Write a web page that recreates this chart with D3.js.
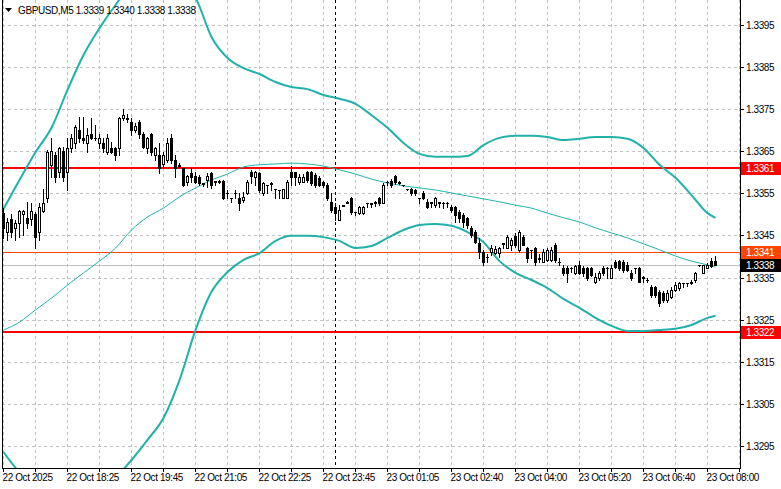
<!DOCTYPE html>
<html><head><meta charset="utf-8">
<script src="https://cdn.jsdelivr.net/npm/d3@7"></script>
<style>
body{margin:0;background:#fff}
svg{display:block}
text{font-family:Tahoma,"Liberation Sans",Arial,sans-serif;font-size:10px;letter-spacing:-0.4px;fill:#000}
</style>
</head><body>
<svg id="chart" width="781" height="489"></svg>
<script>
// ---- data ----
const symbolTitle = "GBPUSD,M5";
const lastOHLC = [1.3339, 1.3340, 1.3338, 1.3338];

const opens = [1.33504,1.33458,1.33490,1.33468,1.33480,1.33501,1.33492,1.33490,1.33501,1.33458,
1.33509,1.33539,1.33618,1.33641,1.33601,1.33651,1.33601,1.33658,1.33670,1.33701,
1.33682,1.33670,1.33691,1.33682,1.33670,1.33670,1.33648,1.33658,1.33658,1.33658,
1.33729,1.33729,1.33720,1.33701,1.33720,1.33691,1.33658,1.33691,1.33641,1.33641,
1.33620,1.33630,1.33682,1.33630,1.33618,1.33611,1.33577,1.33599,1.33592,1.33589,
1.33575,1.33582,1.33599,1.33580,1.33579,1.33580,1.33551,1.33539,1.33550,1.33539,
1.33534,1.33551,1.33601,1.33589,1.33599,1.33551,1.33570,1.33573,1.33561,1.33558,
1.33539,1.33539,1.33601,1.33601,1.33577,1.33577,1.33601,1.33601,1.33594,1.33587,
1.33577,1.33570,1.33529,1.33518,1.33487,1.33522,1.33529,1.33539,1.33506,1.33504,
1.33503,1.33527,1.33525,1.33529,1.33539,1.33527,1.33577,1.33580,1.33592,1.33575,
1.33570,1.33561,1.33561,1.33558,1.33539,1.33551,1.33529,1.33529,1.33522,1.33529,
1.33527,1.33527,1.33518,1.33518,1.33506,1.33499,1.33492,1.33468,1.33458,1.33432,
1.33411,1.33399,1.33411,1.33409,1.33409,1.33430,1.33420,1.33428,1.33449,1.33416,
1.33446,1.33420,1.33416,1.33420,1.33396,1.33387,1.33392,1.33392,1.33428,1.33387,
1.33373,1.33373,1.33373,1.33361,1.33380,1.33373,1.33373,1.33373,1.33339,1.33349,
1.33373,1.33373,1.33349,1.33387,1.33389,1.33387,1.33380,1.33361,1.33373,1.33373,
1.33351,1.33344,1.33327,1.33327,1.33315,1.33313,1.33297,1.33304,1.33320,1.33325,
1.33337,1.33337,1.33339,1.33344,1.33380,1.33361,1.33373,1.33389,1.33390];
const highs = [1.33515,1.33492,1.33501,1.33487,1.33511,1.33511,1.33529,1.33527,1.33506,1.33527,
1.33560,1.33653,1.33682,1.33648,1.33660,1.33660,1.33682,1.33691,1.33713,1.33731,
1.33731,1.33706,1.33729,1.33713,1.33691,1.33682,1.33691,1.33672,1.33660,1.33731,
1.33751,1.33738,1.33729,1.33718,1.33725,1.33696,1.33684,1.33694,1.33660,1.33670,
1.33648,1.33682,1.33691,1.33641,1.33623,1.33613,1.33594,1.33611,1.33601,1.33594,
1.33575,1.33599,1.33601,1.33580,1.33582,1.33582,1.33558,1.33539,1.33558,1.33551,
1.33553,1.33582,1.33606,1.33604,1.33601,1.33577,1.33570,1.33576,1.33561,1.33558,
1.33561,1.33582,1.33616,1.33602,1.33596,1.33596,1.33604,1.33604,1.33599,1.33592,
1.33580,1.33575,1.33551,1.33527,1.33522,1.33523,1.33532,1.33541,1.33506,1.33520,
1.33521,1.33527,1.33527,1.33532,1.33541,1.33575,1.33580,1.33584,1.33594,1.33580,
1.33570,1.33561,1.33563,1.33561,1.33539,1.33556,1.33537,1.33529,1.33541,1.33529,
1.33529,1.33529,1.33522,1.33520,1.33511,1.33504,1.33494,1.33473,1.33463,1.33444,
1.33416,1.33406,1.33428,1.33425,1.33423,1.33432,1.33451,1.33444,1.33456,1.33463,
1.33451,1.33423,1.33416,1.33423,1.33406,1.33418,1.33420,1.33423,1.33432,1.33396,
1.33380,1.33378,1.33375,1.33380,1.33389,1.33378,1.33375,1.33375,1.33361,1.33366,
1.33378,1.33375,1.33380,1.33392,1.33392,1.33392,1.33387,1.33368,1.33373,1.33375,
1.33354,1.33349,1.33332,1.33330,1.33320,1.33318,1.33320,1.33327,1.33339,1.33339,
1.33337,1.33337,1.33344,1.33363,1.33380,1.33380,1.33385,1.33396,1.33400];
const lows = [1.33444,1.33439,1.33446,1.33439,1.33446,1.33451,1.33468,1.33475,1.33420,1.33439,
1.33506,1.33529,1.33589,1.33577,1.33589,1.33580,1.33558,1.33648,1.33658,1.33672,
1.33670,1.33648,1.33680,1.33677,1.33658,1.33648,1.33643,1.33646,1.33630,1.33641,
1.33725,1.33720,1.33689,1.33696,1.33682,1.33658,1.33646,1.33641,1.33630,1.33599,
1.33611,1.33625,1.33623,1.33589,1.33611,1.33568,1.33570,1.33577,1.33575,1.33570,
1.33568,1.33565,1.33563,1.33570,1.33575,1.33537,1.33539,1.33529,1.33539,1.33511,
1.33529,1.33548,1.33575,1.33570,1.33553,1.33546,1.33551,1.33558,1.33539,1.33539,
1.33539,1.33539,1.33570,1.33570,1.33572,1.33577,1.33577,1.33570,1.33565,1.33568,
1.33565,1.33534,1.33506,1.33487,1.33487,1.33520,1.33527,1.33501,1.33499,1.33501,
1.33500,1.33518,1.33518,1.33520,1.33522,1.33527,1.33570,1.33565,1.33572,1.33572,
1.33568,1.33558,1.33546,1.33546,1.33527,1.33537,1.33515,1.33518,1.33518,1.33518,
1.33515,1.33518,1.33506,1.33482,1.33482,1.33470,1.33468,1.33446,1.33432,1.33396,
1.33380,1.33387,1.33404,1.33406,1.33399,1.33420,1.33420,1.33416,1.33423,1.33411,
1.33427,1.33387,1.33396,1.33380,1.33387,1.33387,1.33389,1.33389,1.33387,1.33380,
1.33356,1.33339,1.33363,1.33358,1.33358,1.33354,1.33344,1.33354,1.33337,1.33344,
1.33356,1.33349,1.33349,1.33373,1.33368,1.33363,1.33366,1.33344,1.33361,1.33339,
1.33339,1.33339,1.33304,1.33304,1.33283,1.33292,1.33292,1.33301,1.33318,1.33320,
1.33327,1.33330,1.33335,1.33339,1.33378,1.33361,1.33373,1.33375,1.33380];
const closes = [1.33468,1.33482,1.33458,1.33480,1.33509,1.33509,1.33480,1.33509,1.33446,1.33517,
1.33527,1.33648,1.33651,1.33589,1.33658,1.33589,1.33658,1.33682,1.33708,1.33682,
1.33677,1.33689,1.33682,1.33681,1.33682,1.33658,1.33682,1.33648,1.33641,1.33729,
1.33736,1.33727,1.33701,1.33710,1.33691,1.33660,1.33682,1.33648,1.33658,1.33611,
1.33641,1.33670,1.33630,1.33611,1.33616,1.33570,1.33592,1.33589,1.33577,1.33575,
1.33573,1.33592,1.33570,1.33577,1.33578,1.33539,1.33550,1.33538,1.33551,1.33527,
1.33541,1.33577,1.33592,1.33601,1.33558,1.33575,1.33569,1.33575,1.33560,1.33557,
1.33561,1.33577,1.33589,1.33589,1.33589,1.33589,1.33582,1.33575,1.33570,1.33570,
1.33570,1.33539,1.33511,1.33504,1.33511,1.33521,1.33528,1.33506,1.33505,1.33518,
1.33517,1.33526,1.33527,1.33528,1.33527,1.33570,1.33576,1.33570,1.33577,1.33577,
1.33569,1.33560,1.33551,1.33551,1.33538,1.33539,1.33518,1.33528,1.33539,1.33528,
1.33526,1.33526,1.33511,1.33499,1.33492,1.33482,1.33475,1.33451,1.33434,1.33411,
1.33387,1.33398,1.33420,1.33418,1.33420,1.33432,1.33446,1.33439,1.33428,1.33458,
1.33428,1.33396,1.33415,1.33387,1.33395,1.33411,1.33416,1.33416,1.33392,1.33386,
1.33361,1.33361,1.33372,1.33378,1.33361,1.33361,1.33349,1.33356,1.33351,1.33361,
1.33361,1.33372,1.33373,1.33375,1.33373,1.33368,1.33368,1.33349,1.33372,1.33339,
1.33350,1.33343,1.33309,1.33309,1.33290,1.33297,1.33313,1.33320,1.33332,1.33337,
1.33336,1.33336,1.33338,1.33361,1.33379,1.33380,1.33380,1.33378,1.33380];

// Bollinger bands, sampled at these bar indices
const bandIdx = [0,4,8,12,16,20,24,28,32,36,40,44,48,52,56,60,64,68,72,76,80,84,88,92,96,100,
104,108,112,116,120,124,128,132,136,140,144,148,152,156,160,164,168,172,176,178];
const bbUpper = [1.33513,1.33582,1.33648,1.33706,1.33796,1.33879,1.33943,1.33998,1.34046,1.34069,
1.34069,1.34046,1.34015,1.33922,1.33872,1.33848,1.33834,1.33815,1.33803,1.33798,1.33784,1.33775,
1.33763,1.33736,1.33706,1.33670,1.33644,1.33637,1.33637,1.33639,1.33665,1.33682,1.33687,1.33687,
1.33684,1.33677,1.33680,1.33684,1.33684,1.33680,1.33658,1.33618,1.33587,1.33546,1.33503,1.33492];
const bbMiddle = [1.33225,1.33244,1.33273,1.33301,1.33332,1.33361,1.33389,1.33420,1.33463,1.33494,
1.33515,1.33542,1.33563,1.33582,1.33596,1.33613,1.33618,1.33620,1.33622,1.33620,1.33615,1.33606,
1.33596,1.33584,1.33575,1.33568,1.33563,1.33558,1.33551,1.33544,1.33537,1.33530,1.33522,1.33515,
1.33503,1.33492,1.33482,1.33468,1.33456,1.33444,1.33430,1.33416,1.33401,1.33389,1.33380,1.33375];
const bbLower = [1.32935,1.32888,1.32869,1.32845,1.32833,1.32821,1.32833,1.32873,1.32916,1.32964,
1.33016,1.33106,1.33225,1.33316,1.33363,1.33392,1.33408,1.33437,1.33449,1.33449,1.33446,1.33437,
1.33420,1.33425,1.33444,1.33463,1.33475,1.33477,1.33473,1.33458,1.33434,1.33389,1.33361,1.33344,
1.33325,1.33299,1.33278,1.33254,1.33235,1.33223,1.33223,1.33225,1.33228,1.33237,1.33254,1.33259];

const redLevels = [1.3361, 1.3322];
const orangeLevel = 1.3341;
const bidPrice = 1.3338;

const priceTicks = [1.3395,1.3385,1.3375,1.3365,1.3355,1.3345,1.3335,1.3325,1.3315,1.3305,1.3295];
const timeTickIdx = [0,16,32,48,64,80,96,112,128,144,160,176];
const timeTickLabels = ["22 Oct 2025","22 Oct 18:25","22 Oct 19:45","22 Oct 21:05","22 Oct 22:25",
"22 Oct 23:45","23 Oct 01:05","23 Oct 02:40","23 Oct 04:00","23 Oct 05:20","23 Oct 06:40","23 Oct 08:00"];
const gridEvery = 8;
const daySeparatorIdx = 83;

// ---- layout ----
const W = 781, H = 489;
const pL = 2, pR = 740, pT = 0, pB = 468;
const svg = d3.select("#chart");

const x = d3.scaleLinear().domain([0, 184]).range([3.5, 739.5]);
const y = d3.scaleLinear().domain([1.32897, 1.340099]).range([pB, pT]);

svg.append("rect").attr("width", W).attr("height", H).attr("fill", "#fff");

svg.append("defs").append("clipPath").attr("id", "plot")
  .append("rect").attr("x", pL).attr("y", pT).attr("width", pR - pL).attr("height", pB - pT);

const gGrid = svg.append("g").attr("shape-rendering", "crispEdges");
gGrid.selectAll("line.h").data(priceTicks).join("line")
  .attr("x1", pL).attr("x2", pR)
  .attr("y1", d => Math.round(y(d)) + 0.5).attr("y2", d => Math.round(y(d)) + 0.5)
  .attr("stroke", "#c0c0c0").attr("stroke-dasharray", "3,3");
const vIdx = d3.range(0, 185, gridEvery);
gGrid.selectAll("line.v").data(vIdx).join("line")
  .attr("x1", d => x(d)).attr("x2", d => x(d))
  .attr("y1", pT).attr("y2", pB)
  .attr("stroke", "#c0c0c0").attr("stroke-dasharray", "3,3");

const plot = svg.append("g").attr("clip-path", "url(#plot)");

plot.selectAll("line.red").data(redLevels).join("line")
  .attr("x1", pL).attr("x2", pR)
  .attr("y1", d => Math.round(y(d)) - 0.5).attr("y2", d => Math.round(y(d)) - 0.5)
  .attr("stroke", "#ff0000").attr("stroke-width", 2).attr("shape-rendering", "crispEdges");
plot.append("line").attr("x1", pL).attr("x2", pR)
  .attr("y1", Math.round(y(orangeLevel)) + 0.5).attr("y2", Math.round(y(orangeLevel)) + 0.5)
  .attr("stroke", "#ff4500").attr("stroke-width", 1).attr("shape-rendering", "crispEdges");
plot.append("line").attr("x1", pL).attr("x2", pR)
  .attr("y1", Math.round(y(bidPrice)) + 0.5).attr("y2", Math.round(y(bidPrice)) + 0.5)
  .attr("stroke", "#c0c0c0").attr("stroke-width", 1).attr("shape-rendering", "crispEdges");

plot.append("line").attr("x1", x(daySeparatorIdx)).attr("x2", x(daySeparatorIdx))
  .attr("y1", pT).attr("y2", pB)
  .attr("stroke", "#000").attr("stroke-dasharray", "3,3").attr("shape-rendering", "crispEdges");

const bandLine = arr => d3.line().x((d, k) => x(bandIdx[k])).y(d => y(d)).curve(d3.curveMonotoneX)(arr);
plot.append("path").attr("d", bandLine(bbUpper)).attr("fill", "none").attr("stroke", "#20b2aa").attr("stroke-width", 2);
plot.append("path").attr("d", bandLine(bbLower)).attr("fill", "none").attr("stroke", "#20b2aa").attr("stroke-width", 2);
plot.append("path").attr("d", bandLine(bbMiddle)).attr("fill", "none").attr("stroke", "#20b2aa").attr("stroke-width", 1);

const bars = opens.map((o, i) => ({ i, o, h: highs[i], l: lows[i], c: closes[i] }));
const gC = plot.append("g").attr("shape-rendering", "crispEdges");
gC.selectAll("line.wick").data(bars).join("line")
  .attr("x1", d => x(d.i)).attr("x2", d => x(d.i))
  .attr("y1", d => Math.round(y(d.h))).attr("y2", d => Math.round(y(d.l)) + 1)
  .attr("stroke", "#000");
bars.forEach(d => {
  const yt = Math.round(y(Math.max(d.o, d.c)));
  const yb = Math.round(y(Math.min(d.o, d.c)));
  const cx = x(d.i);
  if (yb - yt < 1) {
    gC.append("rect").attr("x", cx - 1.5).attr("y", yt).attr("width", 3).attr("height", 1).attr("fill", "#000");
  } else if (d.c > d.o) {
    gC.append("rect").attr("x", cx - 1).attr("y", yt + 0.5).attr("width", 2).attr("height", yb - yt)
      .attr("fill", "#fff").attr("stroke", "#000");
  } else {
    gC.append("rect").attr("x", cx - 1.5).attr("y", yt).attr("width", 3).attr("height", yb - yt + 1).attr("fill", "#000");
  }
});

svg.append("path").attr("d", `M${pL + 0.5},${pT}V${pB + 0.5}H${pR + 0.5}V${pT}`)
  .attr("fill", "none").attr("stroke", "#000").attr("shape-rendering", "crispEdges");

const gR = svg.append("g").attr("shape-rendering", "crispEdges");
gR.selectAll("line.t").data(priceTicks).join("line")
  .attr("x1", pR).attr("x2", pR + 4)
  .attr("y1", d => Math.round(y(d)) + 0.5).attr("y2", d => Math.round(y(d)) + 0.5).attr("stroke", "#000");
svg.selectAll("text.p").data(priceTicks).join("text")
  .attr("x", pR + 6).attr("y", d => Math.round(y(d)) + 4)
  .text(d => d3.format(".4f")(d));

const tags = [
  { v: redLevels[0], bg: "#ff0000", fg: "#fff" },
  { v: orangeLevel, bg: "#ff4500", fg: "#fff" },
  { v: bidPrice, bg: "#000", fg: "#fff" },
  { v: redLevels[1], bg: "#ff0000", fg: "#fff" }
];
tags.forEach(t => {
  const yy = Math.round(y(t.v));
  svg.append("rect").attr("x", pR + 1).attr("y", yy - 6).attr("width", 40).attr("height", 13).attr("fill", t.bg);
  svg.append("text").attr("x", pR + 6).attr("y", yy + 4).style("fill", t.fg).text(d3.format(".4f")(t.v));
});

const gB = svg.append("g").attr("shape-rendering", "crispEdges");
gB.selectAll("line.t").data(vIdx).join("line")
  .attr("x1", d => x(d)).attr("x2", d => x(d)).attr("y1", pB).attr("y2", pB + 4).attr("stroke", "#000");
svg.selectAll("text.tl").data(timeTickIdx).join("text")
  .attr("x", d => x(d) - 1).attr("y", pB + 13)
  .text((d, k) => timeTickLabels[k]);

svg.append("path").attr("d", "M5,8 L12,8 L8.5,12 Z").attr("fill", "#000");
svg.append("text").attr("x", 18).attr("y", 14)
  .text(symbolTitle + "  " + lastOHLC.map(v => d3.format(".4f")(v)).join(" "));
</script>
</body></html>
